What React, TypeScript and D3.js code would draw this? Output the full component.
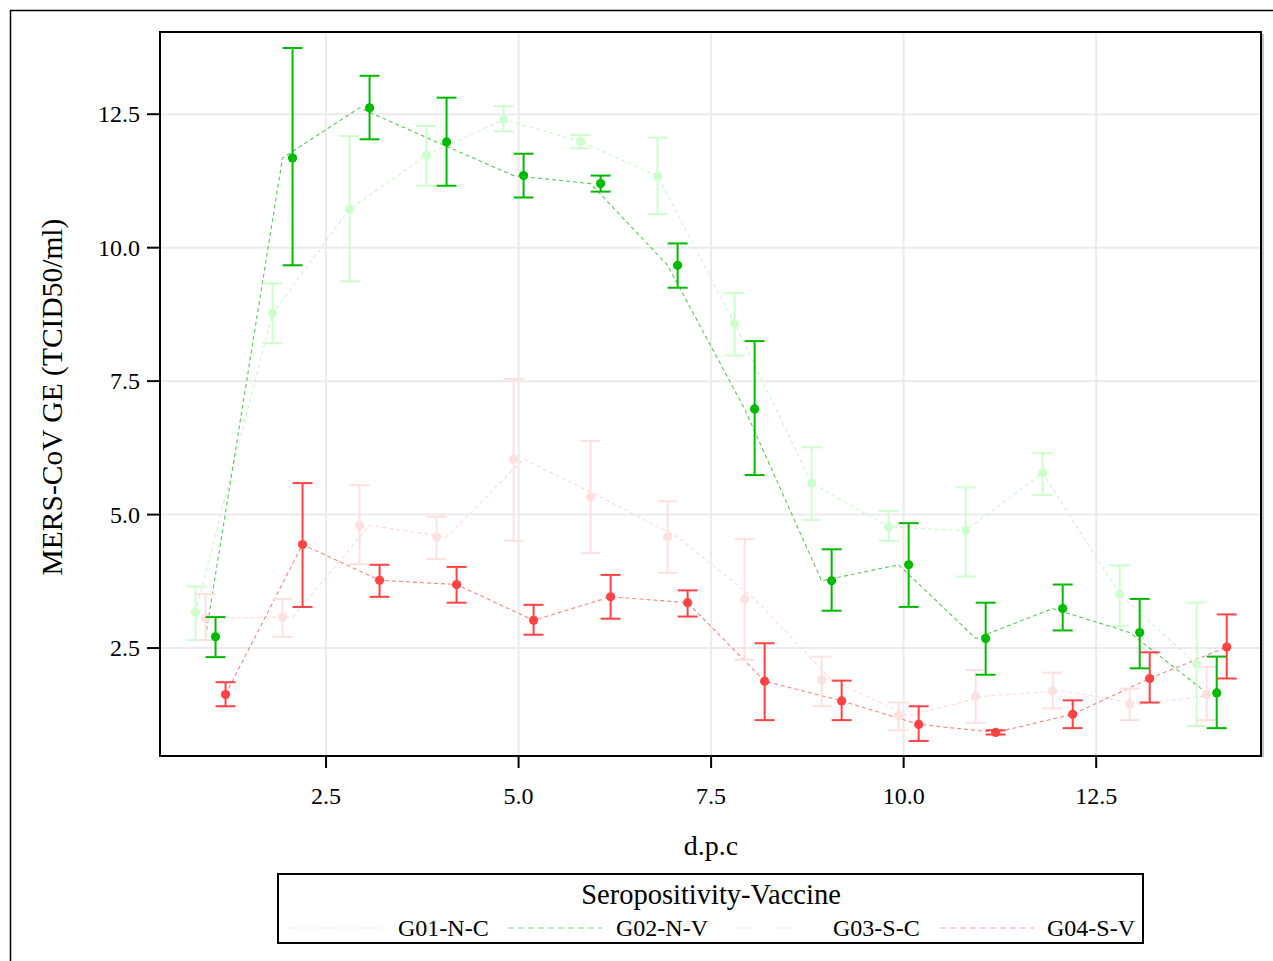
import React from "react";
import * as d3 from "d3";

const days = [1, 2, 3, 4, 5, 6, 7, 8, 9, 10, 11, 12, 13, 14];

const g01Mean = [3.17, 8.77, 10.72, 11.73, 12.40, 11.99, 11.34, 8.58, 5.59, 4.77, 4.70, 5.78, 3.51, 2.19];
const g01Low = [2.65, 8.21, 9.37, 11.16, 12.18, 11.86, 10.63, 7.98, 4.90, 4.51, 3.84, 5.37, 2.91, 1.04];
const g01High = [3.65, 9.33, 12.09, 12.28, 12.65, 12.11, 12.06, 9.15, 6.26, 5.07, 5.51, 6.15, 4.05, 3.35];

const g02Mean = [2.71, 11.68, 12.62, 11.98, 11.35, 11.20, 9.67, 6.98, 3.76, 4.06, 2.68, 3.24, 2.79, 1.66];
const g02Low = [2.33, 9.67, 12.03, 11.16, 10.94, 11.05, 9.25, 5.74, 3.20, 3.27, 2.00, 2.83, 2.12, 1.00];
const g02High = [3.08, 13.74, 13.22, 12.81, 11.76, 11.35, 10.08, 8.25, 4.35, 4.84, 3.35, 3.69, 3.42, 2.34];

const g03Mean = [3.06, 3.08, 4.80, 4.58, 6.04, 5.33, 4.58, 3.42, 1.90, 1.23, 1.60, 1.70, 1.45, 1.63];
const g03Low = [2.65, 2.71, 4.07, 4.17, 4.51, 4.28, 3.91, 2.28, 1.41, 0.96, 1.10, 1.37, 1.15, 1.15];
const g03High = [3.51, 3.42, 5.55, 4.96, 7.54, 6.38, 5.25, 4.54, 2.34, 1.48, 2.09, 2.04, 1.74, 2.15];

const g04Mean = [1.63, 4.44, 3.77, 3.69, 3.02, 3.46, 3.35, 1.88, 1.51, 1.07, 0.92, 1.26, 1.93, 2.52];
const g04Low = [1.41, 3.27, 3.46, 3.35, 2.75, 3.05, 3.09, 1.15, 1.15, 0.76, 0.88, 1.00, 1.48, 1.93];
const g04High = [1.86, 5.59, 4.06, 4.02, 3.31, 3.87, 3.58, 2.59, 1.89, 1.41, 0.96, 1.52, 2.42, 3.13];

const groupNames = ["G01-N-C", "G02-N-V", "G03-S-C", "G04-S-V"];
const xTicks = [2.5, 5.0, 7.5, 10.0, 12.5];
const yTicks = [2.5, 5.0, 7.5, 10.0, 12.5];

const series = [
  { name: groupNames[0], mean: g01Mean, low: g01Low, high: g01High, color: "#ccffcc", line: "#ccf5cc", legendLine: "#dcf7dc", pOff: -0.195, lOff: -0.195 },
  { name: groupNames[1], mean: g02Mean, low: g02Low, high: g02High, color: "#00bb00", line: "#55cc55", legendLine: "#77dd77", pOff: 0.065, lOff: -0.065 },
  { name: groupNames[2], mean: g03Mean, low: g03Low, high: g03High, color: "#ffe0e0", line: "#ffd8d8", legendLine: "#ffe6e6", pOff: -0.065, lOff: 0.065 },
  { name: groupNames[3], mean: g04Mean, low: g04Low, high: g04High, color: "#ff4242", line: "#ff8080", legendLine: "#ff9f9f", pOff: 0.195, lOff: 0.195 },
];

const font = "'Liberation Serif', 'Times New Roman', serif";

export default function App() {
  const left = 160, right = 1261, top = 32, bottom = 756;
  const x = d3.scaleLinear().domain([0.344, 14.64]).range([left, right]);
  const y = d3.scaleLinear().domain([0.478, 14.04]).range([bottom, top]);

  const lineGen = (s: any) =>
    d3.line<number>()
      .x((_, i) => x(days[i] + s.lOff))
      .y((v) => y(v))(s.mean) as string;

  const drawOrder = [series[0], series[2], series[1], series[3]];
  const legendItems = [
    { s: series[0], x1: 290, x2: 385, tx: 398 },
    { s: series[1], x1: 508, x2: 602, tx: 616 },
    { s: series[2], x1: 726, x2: 815, tx: 833 },
    { s: series[3], x1: 940, x2: 1034, tx: 1047 },
  ];

  return (
    <svg width={1273} height={961} style={{ position: "absolute", left: 0, top: 0, background: "#fff" }} fontFamily={font}>
      <rect x={0} y={0} width={1273} height={961} fill="#fff" />
      {/* outer border */}
      <line x1={10} y1={10.5} x2={1273} y2={10.5} stroke="#000" strokeWidth={1.5} />
      <line x1={10.5} y1={10} x2={10.5} y2={961} stroke="#000" strokeWidth={1.5} />

      {/* grid */}
      {xTicks.map((t) => (
        <line key={"gx" + t} x1={x(t)} x2={x(t)} y1={top} y2={bottom} stroke="#ebebeb" strokeWidth={2} />
      ))}
      {yTicks.map((t) => (
        <line key={"gy" + t} x1={left} x2={right} y1={y(t)} y2={y(t)} stroke="#ebebeb" strokeWidth={2} />
      ))}

      {/* lines */}
      {series.map((s) => (
        <path key={"l" + s.name} d={lineGen(s)} fill="none" stroke={s.line} strokeWidth={1.1} strokeDasharray="4,3" />
      ))}

      {/* error bars and points */}
      {drawOrder.map((s) => (
        <g key={"p" + s.name}>
          {days.map((d, i) => {
            const cx = x(d + s.pOff);
            return (
              <g key={i}>
                <line x1={cx} x2={cx} y1={y(s.low[i])} y2={y(s.high[i])} stroke={s.color} strokeWidth={2} />
                <line x1={cx - 10} x2={cx + 10} y1={y(s.low[i])} y2={y(s.low[i])} stroke={s.color} strokeWidth={2} />
                <line x1={cx - 10} x2={cx + 10} y1={y(s.high[i])} y2={y(s.high[i])} stroke={s.color} strokeWidth={2} />
                <circle cx={cx} cy={y(s.mean[i])} r={4.6} fill={s.color} />
              </g>
            );
          })}
        </g>
      ))}

      {/* plot frame */}
      <line x1={right + 2} x2={right + 2} y1={top + 2} y2={bottom + 1} stroke="#888" strokeWidth={1} />
      <rect x={left} y={top} width={right - left} height={bottom - top} fill="none" stroke="#000" strokeWidth={2} />

      {/* axes ticks */}
      {xTicks.map((t) => (
        <g key={"tx" + t}>
          <line x1={x(t)} x2={x(t)} y1={bottom} y2={bottom + 12} stroke="#000" strokeWidth={2} />
          <text x={x(t)} y={804} textAnchor="middle" fontSize={24} fill="#000">{t.toFixed(1)}</text>
        </g>
      ))}
      {yTicks.map((t) => (
        <g key={"ty" + t}>
          <line x1={left - 13} x2={left} y1={y(t)} y2={y(t)} stroke="#000" strokeWidth={2} />
          <text x={140} y={y(t) + 8} textAnchor="end" fontSize={24} fill="#000">{t.toFixed(1)}</text>
        </g>
      ))}

      {/* axis titles */}
      <text x={711} y={855} textAnchor="middle" fontSize={28} fill="#000">d.p.c</text>
      <text transform="translate(62,397) rotate(-90)" textAnchor="middle" fontSize={29.5} fill="#000">MERS-CoV GE (TCID50/ml)</text>

      {/* legend */}
      <rect x={278} y={874} width={865} height={69} fill="none" stroke="#000" strokeWidth={2} />
      <text x={711} y={904} textAnchor="middle" fontSize={28.5} fill="#000">Seropositivity-Vaccine</text>
      {legendItems.map((it) => (
        <g key={"lg" + it.s.name}>
          <line x1={it.x1} x2={it.x2} y1={928} y2={928} stroke={it.s.legendLine} strokeWidth={1.2} strokeDasharray="6,4" />
          <text x={it.tx} y={936} fontSize={24} fill="#000">{it.s.name}</text>
        </g>
      ))}
    </svg>
  );
}
